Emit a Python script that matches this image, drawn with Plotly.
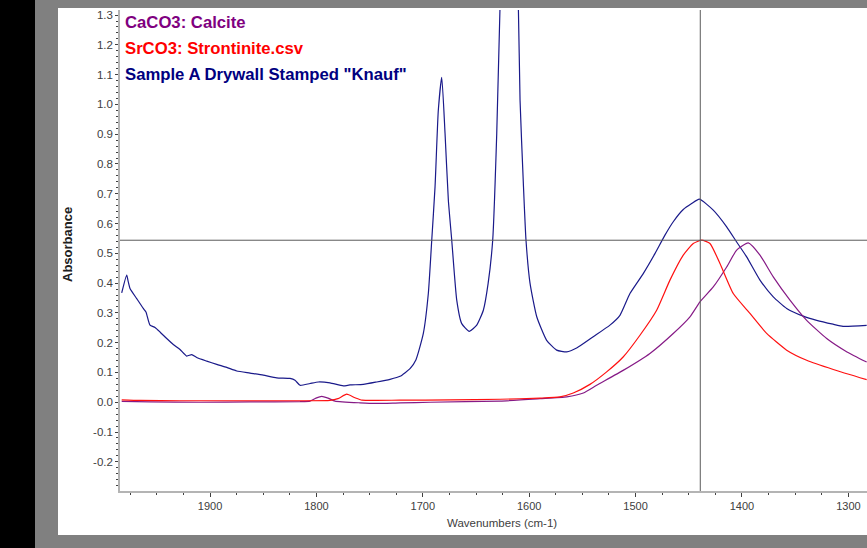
import plotly.graph_objects as go

# ---------------- data ----------------
sample_wn = [1983.0, 1978.3, 1976.8, 1975.2, 1968.9, 1962.7, 1960.2, 1956.4, 1951.7, 1947.0,
             1940.7, 1934.5, 1928.2, 1921.9, 1917.2, 1912.5, 1903.1, 1893.7, 1884.3, 1874.9,
             1862.4, 1849.9, 1837.3, 1824.8, 1820.1, 1815.4, 1806.0, 1798.2, 1787.2, 1774.7,
             1768.4, 1755.9, 1743.3, 1730.8, 1721.4, 1712.0, 1706.4, 1699.5, 1694.8, 1691.6,
             1688.5, 1685.4, 1682.2, 1679.1, 1676.0, 1672.8, 1668.1, 1663.4, 1656.3, 1649.3,
             1643.1, 1638.6, 1634.3, 1630.5, 1627.4, 1624.6, 1619.0, 1613.3, 1610.2, 1608.6,
             1605.5, 1603.0, 1599.2, 1592.9, 1583.6, 1574.2, 1564.7, 1555.4, 1539.8, 1524.1,
             1514.7, 1505.3, 1492.8, 1481.8, 1472.4, 1464.6, 1455.2, 1447.3, 1440.1, 1427.0,
             1414.4, 1405.0, 1395.6, 1383.1, 1370.6, 1358.0, 1342.4, 1329.8, 1314.4, 1305.0,
             1282.8]
sample_abs = [0.367, 0.427, 0.404, 0.382, 0.348, 0.315, 0.303, 0.259, 0.251, 0.236,
              0.214, 0.194, 0.177, 0.155, 0.160, 0.150, 0.138, 0.127, 0.117, 0.105,
              0.098, 0.091, 0.082, 0.080, 0.074, 0.057, 0.063, 0.068, 0.065, 0.055,
              0.058, 0.060, 0.068, 0.077, 0.087, 0.113, 0.143, 0.231, 0.365, 0.544,
              0.723, 0.981, 1.091, 0.903, 0.679, 0.544, 0.343, 0.264, 0.238, 0.259,
              0.309, 0.399, 0.544, 0.903, 1.330, 1.600, 1.900, 1.600, 1.330, 1.014,
              0.735, 0.544, 0.399, 0.287, 0.208, 0.175, 0.169, 0.182, 0.220, 0.259,
              0.292, 0.365, 0.432, 0.499, 0.561, 0.606, 0.647, 0.667, 0.682, 0.645,
              0.589, 0.538, 0.488, 0.410, 0.354, 0.315, 0.289, 0.275, 0.262, 0.255,
              0.258]

calcite_wn = [1983.0, 1956.4, 1909.4, 1862.4, 1815.4, 1806.0, 1800.4, 1795.0, 1789.1, 1782.5,
              1759.0, 1743.3, 1721.4, 1693.2, 1627.4, 1589.8, 1564.7, 1549.1, 1536.6, 1511.7,
              1486.5, 1464.6, 1448.9, 1439.5, 1427.0, 1414.4, 1405.0, 1394.1, 1383.1, 1370.6,
              1354.9, 1339.2, 1320.4, 1301.3, 1282.8]
calcite_abs = [0.003, 0.001, 0.000, 0.001, 0.002, 0.004, 0.014, 0.020, 0.014, 0.004,
               -0.002, -0.004, -0.002, 0.000, 0.004, 0.012, 0.018, 0.031, 0.057, 0.107,
               0.164, 0.231, 0.287, 0.337, 0.387, 0.454, 0.511, 0.535, 0.494, 0.421,
               0.343, 0.275, 0.214, 0.169, 0.135]

stront_wn = [1983.0, 1965.8, 1928.2, 1862.4, 1815.4, 1787.2, 1779.7, 1771.5, 1763.7, 1757.1,
             1721.4, 1674.4, 1627.4, 1589.8, 1571.1, 1558.6, 1542.9, 1527.2, 1511.7, 1495.9,
             1480.2, 1467.7, 1455.2, 1445.8, 1437.9, 1430.1, 1420.7, 1408.2, 1392.5, 1376.8,
             1358.0, 1339.2, 1314.2, 1282.8]
stront_abs = [0.008, 0.006, 0.005, 0.005, 0.005, 0.006, 0.012, 0.027, 0.015, 0.007,
              0.007, 0.008, 0.010, 0.014, 0.018, 0.031, 0.060, 0.102, 0.152, 0.225,
              0.309, 0.410, 0.494, 0.533, 0.544, 0.533, 0.466, 0.365, 0.298, 0.231,
              0.175, 0.141, 0.110, 0.076]

series_names = ["CaCO3: Calcite", "SrCO3: Strontinite.csv", 'Sample A Drywall Stamped "Knauf"']
series_colors = ["#861a86", "#ff1010", "#1a1a8a"]
label_colors = ["#800080", "#ff0000", "#000080"]

x_tick_vals = [1900, 1800, 1700, 1600, 1500, 1400, 1300]
x_tick_labels = ["1900", "1800", "1700", "1600", "1500", "1400", "1300"]
y_tick_vals = [-0.2, -0.1, 0.0, 0.1, 0.2, 0.3, 0.4, 0.5, 0.6, 0.7, 0.8, 0.9, 1.0, 1.1, 1.2, 1.3]
y_tick_labels = ["-0.2", "-0.1", "0.0", "0.1", "0.2", "0.3", "0.4", "0.5", "0.6", "0.7",
                 "0.8", "0.9", "1.0", "1.1", "1.2", "1.3"]

cursor_wn = 1439.2
cursor_abs = 0.544

x_range = [1984.6, 1282.5]
y_range = [-0.298, 1.317]

# ---------------- figure ----------------
fig = go.Figure()
fig.add_trace(go.Scatter(x=sample_wn, y=sample_abs, mode="lines", name=series_names[2],
                         line=dict(color=series_colors[2], width=1.2, shape="spline", smoothing=0.5)))
fig.add_trace(go.Scatter(x=calcite_wn, y=calcite_abs, mode="lines", name=series_names[0],
                         line=dict(color=series_colors[0], width=1.2, shape="spline", smoothing=0.5)))
fig.add_trace(go.Scatter(x=stront_wn, y=stront_abs, mode="lines", name=series_names[1],
                         line=dict(color=series_colors[1], width=1.2, shape="spline", smoothing=0.5)))

L, R, T, B = 120, 0, 10, 57
W, H = 867, 548
pw, ph = W - L - R, H - T - B

def px2x(px):
    return (px - L) / pw

def py2y(py):
    return (H - B - py) / ph

shapes = [
    # black strip on the left
    dict(type="rect", xref="paper", yref="paper", x0=px2x(-5), x1=px2x(35), y0=py2y(560), y1=py2y(-10),
         fillcolor="black", line=dict(width=0), layer="below"),
    # white panel
    dict(type="rect", xref="paper", yref="paper", x0=px2x(58), x1=px2x(880), y0=py2y(535), y1=py2y(8),
         fillcolor="white", line=dict(width=0), layer="below"),
    # crosshair cursor
    dict(type="line", xref="x", yref="paper", x0=cursor_wn, x1=cursor_wn, y0=0, y1=1,
         line=dict(color="#5a5a5a", width=1)),
    dict(type="line", xref="paper", yref="y", x0=0, x1=1, y0=cursor_abs, y1=cursor_abs,
         line=dict(color="#5a5a5a", width=1)),
]

annotations = []
label_y = [23, 48.5, 74]
for name, col, yy in zip(series_names, label_colors, label_y):
    annotations.append(dict(text="<b>%s</b>" % name, xref="paper", yref="paper",
                            x=px2x(123), y=py2y(yy), xanchor="left", yanchor="middle",
                            showarrow=False,
                            font=dict(family="Liberation Sans, Arial", size=16.7, color=col)))
annotations.append(dict(text="<b>Absorbance</b>", xref="paper", yref="paper",
                        x=px2x(67), y=py2y(245), xanchor="center", yanchor="middle",
                        textangle=-90, showarrow=False,
                        font=dict(family="Liberation Sans, Arial", size=13, color="#202020")))
annotations.append(dict(text="Wavenumbers (cm-1)", xref="paper", yref="paper",
                        x=px2x(502), y=py2y(523), xanchor="center", yanchor="middle",
                        showarrow=False,
                        font=dict(family="Liberation Sans, Arial", size=11.5, color="#404040")))

fig.update_layout(
    width=W, height=H,
    margin=dict(l=L, r=R, t=T, b=B, pad=0),
    paper_bgcolor="#808080",
    plot_bgcolor="white",
    showlegend=False,
    shapes=shapes,
    annotations=annotations,
    font=dict(family="Liberation Sans, Arial", size=11, color="#404040"),
)
fig.update_xaxes(range=x_range, tickmode="array", tickvals=x_tick_vals, ticktext=x_tick_labels,
                 showgrid=False, zeroline=False, showline=True, linecolor="#b4b4b4", linewidth=2,
                 ticks="outside", ticklen=4, tickcolor="#404040", tickwidth=1,
                 minor=dict(tickmode="linear", tick0=1300, dtick=25, ticks="outside", ticklen=2,
                            tickcolor="#404040", showgrid=False),
                 tickfont=dict(size=11, color="#404040"))
fig.update_yaxes(range=y_range, tickmode="array", tickvals=y_tick_vals, ticktext=y_tick_labels,
                 showgrid=False, zeroline=False, showline=True, linecolor="#b4b4b4", linewidth=1.5,
                 ticks="outside", ticklen=3, tickcolor="#404040", tickwidth=1,
                 minor=dict(tickmode="linear", tick0=0, dtick=0.02, ticks="outside", ticklen=2,
                            tickcolor="#404040", showgrid=False),
                 tickfont=dict(size=11.5, color="#404040"))

fig.write_html("out.html", config={"displayModeBar": False},
               post_script="document.body.style.margin='0';document.body.style.overflow='hidden';")
